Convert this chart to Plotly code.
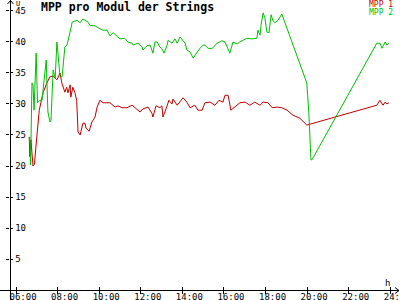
import plotly.graph_objects as go

# MPP 1 (red)
t1 = ["06:38","06:40","06:43","06:49","06:53","06:58","07:01","07:07","07:14","07:18","07:29","07:38","07:47","07:58",
      "08:07","08:12","08:21","08:26","08:30","08:36","08:38","08:44","08:50","08:55","08:59","09:05","09:13","09:19",
      "09:22","09:31","09:39","09:48","09:54","10:02","10:11","10:31","10:46","10:54","11:06","11:20","11:35","11:43",
      "11:58","12:06","12:21","12:32","12:35","12:44","12:55","13:01","13:04","13:16","13:21","13:30","13:33","13:45",
      "13:53","14:02","14:13","14:22","14:36","14:45","14:57","15:05","15:20","15:34","15:46","15:57","16:03","16:12",
      "16:20","16:32","16:46","17:01","17:15","17:29","17:44","17:53","18:07","18:19","18:33","18:47","19:02","19:19",
      "19:39","19:59","23:21","23:30","23:39","23:45","23:50","23:56"]
v1 = [24.7,21.5,24.2,20.0,20.3,24.2,25.3,29.0,31.0,31.8,33.4,34.4,34.5,33.9,
      35.0,33.4,31.9,32.7,31.8,33.1,31.1,32.7,31.8,30.6,25.5,25.0,26.9,26.9,
      26.1,25.6,27.1,27.9,29.5,30.6,30.2,30.2,29.5,29.7,29.4,29.4,29.8,29.4,
      28.7,29.2,29.5,28.5,27.9,29.7,29.4,29.7,27.9,29.7,30.6,30.0,30.8,29.8,
      30.3,31.0,30.3,29.4,29.8,29.0,29.0,30.2,30.3,29.8,30.6,30.3,31.4,31.4,
      29.0,29.5,30.2,30.3,29.8,30.3,29.8,30.3,30.2,29.4,29.5,29.4,29.0,28.2,
      27.7,26.6,29.8,30.6,29.8,30.3,30.0,30.2]

# MPP 2 (green)
t2 = ["06:40","06:42","06:46","06:49","06:52","06:58","07:02","07:09","07:15","07:27","07:32","07:38","07:41","07:47",
      "07:53","07:58","08:07","08:13","08:21","08:27","08:36","08:42","08:56","09:05","09:13","09:28","09:33","09:48",
      "09:57","10:11","10:23","10:31","10:40","10:51","11:00","11:14","11:23","11:35","11:38","11:52","12:04","12:06",
      "12:18","12:27","12:35","12:41","12:47","12:55","13:01","13:07","13:16","13:19","13:30","13:39","13:45","13:53",
      "14:02","14:08","14:13","14:22","14:31","14:42","14:51","15:00","15:05","15:14","15:25","15:40","15:54","16:03",
      "16:12","16:17","16:26","16:38","16:46","16:55","17:06","17:21","17:35","17:38","17:44","17:47","17:53","17:58",
      "18:04","18:10","18:16","18:21","18:27","18:36","18:47","19:59","20:05","20:11","20:14","23:21","23:30","23:36",
      "23:45","23:50","23:56"]
v2 = [24.7,20.2,33.4,33.1,29.0,38.2,30.2,30.6,30.6,37.1,28.7,27.1,27.4,35.5,
      34.2,40.0,34.4,34.4,39.2,39.5,41.6,43.2,43.5,43.1,43.7,43.2,42.7,42.6,
      42.3,41.9,41.9,41.0,41.5,41.0,40.5,40.6,40.0,39.8,39.5,39.8,39.2,38.7,
      39.4,39.5,38.2,40.0,40.0,39.2,38.9,38.2,39.5,40.3,39.8,40.5,39.8,40.8,
      40.2,39.8,38.7,38.4,37.4,38.4,39.0,39.5,39.5,39.0,38.9,39.8,40.2,40.0,
      39.0,38.2,40.0,39.7,40.0,40.3,40.6,40.5,40.6,41.9,41.1,42.7,44.7,43.9,
      41.6,41.5,44.4,43.5,43.1,43.5,44.5,33.4,28.5,21.0,21.0,39.8,39.8,39.0,
      40.0,39.5,39.8]

x_ticks = [6, 8, 10, 12, 14, 16, 18, 20, 22, 24]
x_labels = ["06:00", "08:00", "10:00", "12:00", "14:00", "16:00", "18:00", "20:00", "22:00", "24:00"]
y_ticks = [5, 10, 15, 20, 25, 30, 35, 40, 45]

RED = "#c00000"
GREEN = "#00c000"
MONO = "DejaVu Sans Mono"

def hours(ts):
    return [int(s[:2]) + int(s[3:]) / 60 for s in ts]

xr = [5.71, 24.37]
yr = [0, 46.45]

fig = go.Figure()
fig.add_trace(go.Scatter(x=hours(t1), y=v1, mode="lines", line=dict(color=RED, width=1), name="MPP 1"))
fig.add_trace(go.Scatter(x=hours(t2), y=v2, mode="lines", line=dict(color=GREEN, width=1), name="MPP 2"))
fig.add_trace(go.Scatter(x=[], y=[], xaxis="x2", yaxis="y2", showlegend=False))

W, H = 400, 300
L, R, T, B = 10, 2, 2, 10
pw, ph = W - L - R, H - T - B

def px(x):
    return (x - L) / pw

def py(y):
    return (H - B - y) / ph

fig.update_layout(
    width=W, height=H,
    margin=dict(l=L, r=R, t=T, b=B),
    plot_bgcolor="white", paper_bgcolor="white",
    showlegend=False,
    xaxis=dict(range=xr, tickvals=x_ticks, ticktext=x_labels, ticks="outside", ticklen=3,
               tickcolor="black", tickwidth=1, showgrid=False, zeroline=False, showline=False,
               tickfont=dict(family=MONO, size=9, color="black"), ticklabelshift=7, ticklabelstandoff=-5,
               ticklabeloverflow="allow", automargin=False),
    xaxis2=dict(range=xr, overlaying="x", anchor="y", side="bottom", tickvals=x_ticks, ticks="inside",
                ticklen=3, tickcolor="black", showticklabels=False, showgrid=False, zeroline=False,
                showline=False, automargin=False),
    yaxis=dict(range=yr, tickvals=y_ticks, ticks="inside", ticklen=3, tickcolor="black",
               ticklabelposition="inside", showgrid=False, zeroline=False, showline=False,
               tickfont=dict(family=MONO, size=9, color="black"), ticklabelstandoff=1,
               ticklabeloverflow="allow", automargin=False),
    yaxis2=dict(range=yr, overlaying="y", anchor="x", side="left", tickvals=y_ticks, ticks="outside",
                ticklen=3, tickcolor="black", showticklabels=False, showgrid=False, zeroline=False,
                showline=False, automargin=False),
)

# axis lines with arrows
shapes = [
    dict(type="line", xref="paper", yref="paper", x0=px(0), x1=px(399), y0=py(290.5), y1=py(290.5),
         line=dict(color="black", width=1)),
    dict(type="line", xref="paper", yref="paper", x0=px(10.5), x1=px(10.5), y0=py(300), y1=py(0),
         line=dict(color="black", width=1)),
    dict(type="path", xref="paper", yref="paper",
         path=f"M {px(7.5)} {py(4)} L {px(10.5)} {py(0.5)} L {px(13.5)} {py(4)}",
         line=dict(color="black", width=1)),
    dict(type="path", xref="paper", yref="paper",
         path=f"M {px(395)} {py(287.5)} L {px(399)} {py(290.5)} L {px(395)} {py(293.5)}",
         line=dict(color="black", width=1)),
]
fig.update_layout(shapes=shapes)

annotations = [
    dict(text="<b>MPP pro Modul der Strings</b>", xref="paper", yref="paper", x=px(39), y=py(7.5),
         xanchor="left", yanchor="middle", showarrow=False, font=dict(family=MONO, size=11.5, color="black")),
    dict(text="MPP 1", xref="paper", yref="paper", x=px(395), y=py(5), xanchor="right", yanchor="middle",
         showarrow=False, font=dict(family=MONO, size=8, color=RED)),
    dict(text="MPP 2", xref="paper", yref="paper", x=px(395), y=py(13), xanchor="right", yanchor="middle",
         showarrow=False, font=dict(family=MONO, size=8, color=GREEN)),
    dict(text="U", xref="paper", yref="paper", x=px(14), y=py(4), xanchor="left", yanchor="middle",
         showarrow=False, font=dict(family=MONO, size=7, color="black")),
    dict(text="h", xref="paper", yref="paper", x=px(387), y=py(283), xanchor="center", yanchor="middle",
         showarrow=False, font=dict(family=MONO, size=9, color="black")),
]
fig.update_layout(annotations=annotations)

fig.write_html("out.html")
